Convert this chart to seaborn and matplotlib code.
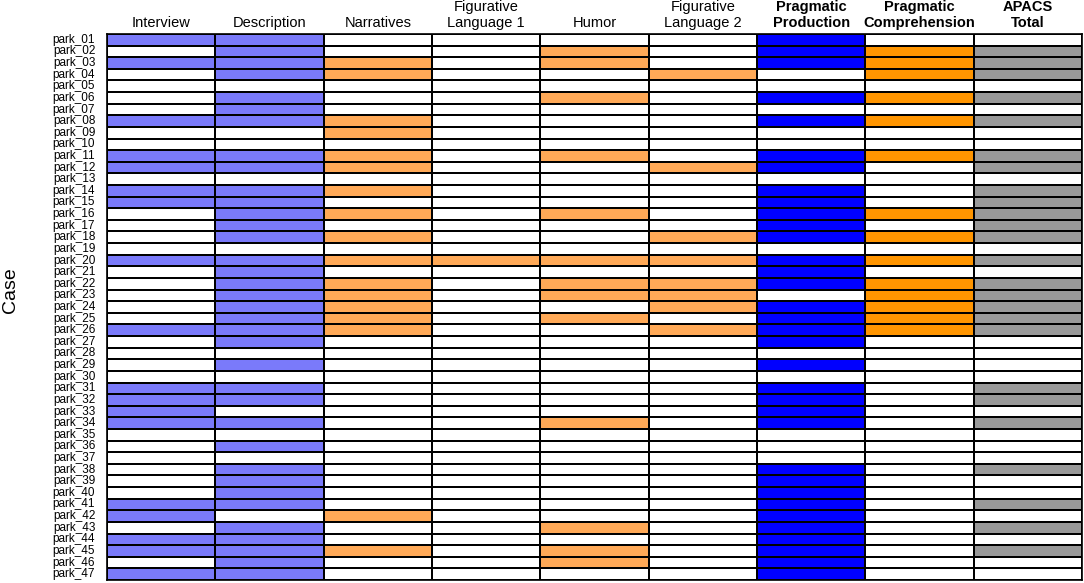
import numpy as np
import pandas as pd
import matplotlib
matplotlib.use("Agg")
import matplotlib.pyplot as plt
from matplotlib.colors import ListedColormap
import seaborn as sns

cases = [f"park_{i:02d}" for i in range(1, 48)]

columns = ["Interview", "Description", "Narratives", "Figurative\nLanguage 1", "Humor",
           "Figurative\nLanguage 2", "Pragmatic\nProduction", "Pragmatic\nComprehension",
           "APACS\nTotal"]
bold_columns = ["Pragmatic\nProduction", "Pragmatic\nComprehension", "APACS\nTotal"]

interview = [1,0,1,0,0,0,0,1,0,0, 1,1,0,1,1,0,0,0,0,1, 0,0,0,0,0,1,0,0,0,0,
             1,1,1,1,0,0,0,0,0,0, 1,1,0,1,1,0,1]
description = [1,1,1,1,0,1,1,1,0,0, 1,1,0,1,1,1,1,1,0,1, 1,1,1,1,1,1,1,0,1,0,
               1,1,0,1,0,1,0,1,1,1, 1,0,1,1,1,1,1]
narratives = [0,0,1,1,0,0,0,1,1,0, 1,1,0,1,0,1,0,1,0,1, 0,1,1,1,1,1,0,0,0,0,
              0,0,0,0,0,0,0,0,0,0, 0,1,0,0,1,0,0]
figurative1 = [0,0,0,0,0,0,0,0,0,0, 0,0,0,0,0,0,0,0,0,1, 0,0,0,0,0,0,0,0,0,0,
               0,0,0,0,0,0,0,0,0,0, 0,0,0,0,0,0,0]
humor = [0,1,1,0,0,1,0,0,0,0, 1,0,0,0,0,1,0,0,0,1, 0,1,1,0,1,0,0,0,0,0,
         0,0,0,1,0,0,0,0,0,0, 0,0,1,0,1,1,0]
figurative2 = [0,0,0,1,0,0,0,0,0,0, 0,1,0,0,0,0,0,1,0,1, 0,1,1,1,0,1,0,0,0,0,
               0,0,0,0,0,0,0,0,0,0, 0,0,0,0,0,0,0]
prag_production = [1,1,1,0,0,1,0,1,0,0, 1,1,0,1,1,1,1,1,0,1, 1,1,0,1,1,1,1,0,1,0,
                   1,1,1,1,0,0,0,1,1,1, 1,1,1,1,1,1,1]
prag_comprehension = [0,1,1,1,0,1,0,1,0,0, 1,0,0,0,0,1,0,1,0,1, 0,1,1,1,1,1,0,0,0,0,
                      0,0,0,0,0,0,0,0,0,0, 0,0,0,0,0,0,0]
apacs_total = [0,1,1,1,0,1,0,1,0,0, 1,1,0,1,1,1,1,1,0,1, 0,1,1,1,1,1,0,0,0,0,
               1,1,0,1,0,0,0,1,0,0, 1,0,1,0,1,0,0]

series = [interview, description, narratives, figurative1, humor, figurative2,
          prag_production, prag_comprehension, apacs_total]
# colour class per column: 1 light blue, 2 light orange, 3 blue, 4 orange, 5 grey
col_class = [1, 1, 2, 2, 2, 2, 3, 4, 5]
palette = ["#FFFFFF", "#7A7AFA", "#FFA957", "#0000FF", "#FF9500", "#999999"]

mat = np.array([np.array(s) * c for s, c in zip(series, col_class)]).T
df = pd.DataFrame(mat, index=cases, columns=columns)

fig = plt.figure(figsize=(10.84, 5.83), dpi=100)
ax = fig.add_axes([107/1084, 1 - 580/583, (1082 - 107)/1084, (580 - 34)/583])

sns.heatmap(df, ax=ax, cmap=ListedColormap(palette), vmin=-0.5, vmax=5.5,
            cbar=False, linewidths=1.2, linecolor="black",
            xticklabels=True, yticklabels=True)

ax.xaxis.tick_top()
ax.tick_params(axis="both", length=0)
ax.tick_params(axis="x", pad=3)
ax.tick_params(axis="y", pad=8.5)
for lab in ax.get_xticklabels():
    lab.set_fontfamily("Liberation Sans")
    lab.set_fontsize(10.5)
    lab.set_rotation(0)
    lab.set_ha("center")
    lab.set_va("bottom")
    lab.set_linespacing(1.15)
    if lab.get_text() in bold_columns:
        lab.set_fontweight("bold")
for lab in ax.get_yticklabels():
    lab.set_fontfamily("Liberation Sans")
    lab.set_fontsize(8.5)
    lab.set_rotation(0)

ax.set_xlabel("")
ax.set_ylabel("Case", fontsize=14, family="Liberation Sans")
ax.yaxis.set_label_coords((19 - 107) / 975, 0.53)

for side in ["top", "bottom", "left", "right"]:
    ax.spines[side].set_visible(True)
    ax.spines[side].set_color("black")
    ax.spines[side].set_linewidth(1.2)

fig.savefig("out.png", dpi=100)
